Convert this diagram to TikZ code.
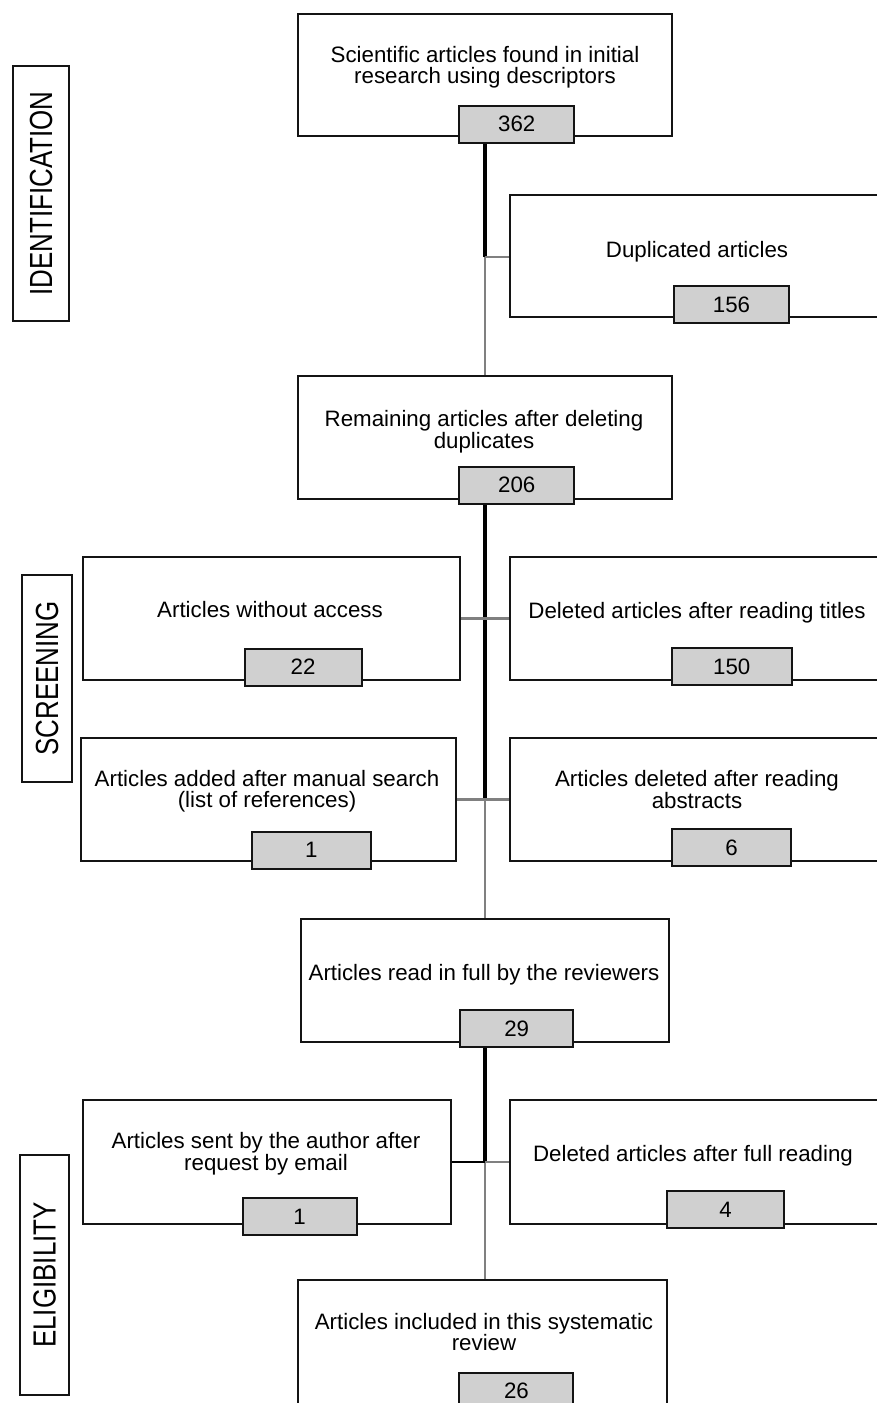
\documentclass[tikz,border=0pt]{standalone}
\usepackage{fontspec}
\setmainfont{Liberation Sans}
\usetikzlibrary{backgrounds}
\definecolor{numfill}{RGB}{208,208,208}
\definecolor{linegray}{RGB}{128,128,128}
\definecolor{boxline}{RGB}{20,20,20}
\begin{document}
\begin{tikzpicture}[x=1pt,y=-1pt,
  every node/.style={inner sep=0pt, outer sep=0pt},
  mainbox/.style={draw=boxline, line width=2pt, fill=white, rectangle, anchor=north west},
  numbox/.style={draw=boxline, line width=2pt, fill=numfill, rectangle, minimum height=37pt, font=\fontsize{22.3}{22}\selectfont},
  txt/.style={align=center, font=\fontsize{22.3}{20.5}\selectfont},
  sidebox/.style={draw=boxline, line width=2pt, rectangle, rotate=90, font=\fontsize{32}{32}\selectfont},
  blackline/.style={draw=black, line width=3.4pt},
  grayline/.style={draw=linegray, line width=2.6pt},
]
\useasboundingbox (0,0) rectangle (876,1403);

% side labels
\node[sidebox, minimum width=255pt, minimum height=56pt] (ident) at (41,193.5) {\scalebox{0.81}[1]{IDENTIFICATION}};
\node[sidebox, minimum width=207pt, minimum height=50pt] (screen) at (47,678.5) {\scalebox{0.81}[1]{SCREENING}};
\node[sidebox, minimum width=240pt, minimum height=49pt] (elig) at (44.5,1275) {\scalebox{0.81}[1]{ELIGIBILITY}};

% main boxes
\node[mainbox, minimum width=374pt, minimum height=122pt] (b1) at (298,14) {};
\node[mainbox, minimum width=374pt, minimum height=122pt] (dup) at (510,195) {};
\node[mainbox, minimum width=374pt, minimum height=123pt] (b3) at (298,376) {};
\node[mainbox, minimum width=377pt, minimum height=123pt] (acc) at (83,557) {};
\node[mainbox, minimum width=374pt, minimum height=123pt] (tit) at (510,557) {};
\node[mainbox, minimum width=375pt, minimum height=123pt] (man) at (81,738) {};
\node[mainbox, minimum width=374pt, minimum height=123pt] (abs) at (510,738) {};
\node[mainbox, minimum width=368pt, minimum height=123pt] (read) at (301,919) {};
\node[mainbox, minimum width=368pt, minimum height=124pt] (sent) at (83,1100) {};
\node[mainbox, minimum width=374pt, minimum height=124pt] (full) at (510,1100) {};
\node[mainbox, minimum width=369pt, minimum height=130pt] (inc) at (298,1280) {};

% texts
\node[txt] (b1t) at (485,67) {Scientific articles found in initial\\research using descriptors};
\node[txt, anchor=base] (dupt) at (697,257) {Duplicated articles};
\node[txt] (b3t) at (484,432) {Remaining articles after deleting\\duplicates};
\node[txt, anchor=base] (acct) at (270,617) {Articles without access};
\node[txt, anchor=base] (titt) at (697,618) {Deleted articles after reading titles};
\node[txt] (mant) at (267,791) {Articles added after manual search\\(list of references)};
\node[txt] (abst) at (697,789.5) {Articles deleted after reading\\abstracts};
\node[txt, anchor=base] (readt) at (484,980.7) {Articles read in full by the reviewers};
\node[txt] (sentt) at (266,1154) {Articles sent by the author after\\request by email};
\node[txt, anchor=base] (fullt) at (693,1161) {Deleted articles after full reading};
\node[txt] (inct) at (484,1332) {Articles included in this systematic\\review};

% number boxes
\node[numbox, minimum width=115pt] (n1) at (516.7,124) {362};
\node[numbox, minimum width=115pt] (n2) at (731.5,304.7) {156};
\node[numbox, minimum width=115pt] (n3) at (516.7,485.3) {206};
\node[numbox, minimum width=117pt] (n4) at (303,667) {22};
\node[numbox, minimum width=120pt] (n5) at (731.7,666.7) {150};
\node[numbox, minimum width=119pt] (n6) at (311.3,850) {1};
\node[numbox, minimum width=119pt] (n7) at (731.5,847.7) {6};
\node[numbox, minimum width=113pt] (n8) at (516.7,1028.7) {29};
\node[numbox, minimum width=114pt] (n9) at (299.5,1216.7) {1};
\node[numbox, minimum width=117pt] (n10) at (725.5,1209.7) {4};
\node[numbox, minimum width=114pt] (n11) at (516.4,1391) {26};

% junctions
\coordinate (j1) at (485,257);
\coordinate (j3) at (485,799.5);
\coordinate (j4) at (485,1162);

\begin{pgfonlayer}{background}
  % identification
  \draw[grayline] (j1) -- (b3.north);
  \draw[blackline] (b1.south) -- (j1);
  \draw[grayline] (j1) -- (j1 -| dup.west);
  % screening
  \draw[grayline] (b3.south) -- (read.north);
  \draw[blackline] (b3.south) -- (j3);
  \draw[grayline] (acc.east) -- (tit.west);
  \draw[grayline] (man.east) -- (abs.west);
  % eligibility
  \draw[grayline] (j4) -- (j4 |- inc.north);
  \draw[blackline] (read.south) -- (j4);
  \draw[draw=black, line width=2.2pt] (sent.east) -- (j4);
  \draw[grayline] (j4) -- (full.west);
\end{pgfonlayer}
\end{tikzpicture}
\end{document}
